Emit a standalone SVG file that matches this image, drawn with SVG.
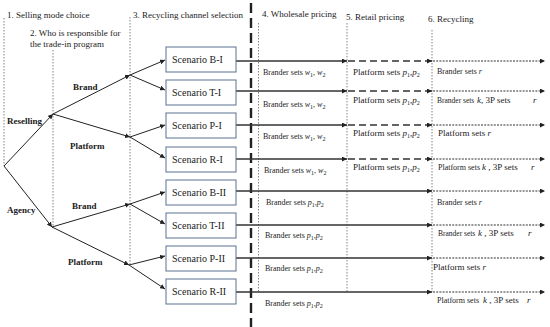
<svg xmlns="http://www.w3.org/2000/svg" width="550" height="327" viewBox="0 0 550 327">
<style>
text{font-family:"Liberation Serif","Times New Roman",serif;fill:#1a1a1a}
.h{font-size:9px}
.b{font-size:9px;font-weight:bold}
.s{font-size:10px}
.br{font-size:8px}
.pl{font-size:9px}
.sm{font-size:7.5px}
.sp{font-size:8px}
.i{font-style:italic}
.sub{font-size:6px}
.guide{stroke:#777;stroke-width:0.9;stroke-dasharray:1.5 1.5;fill:none}
.box{fill:#fff;stroke:#5a7090;stroke-width:1}
.e{stroke:#222;stroke-width:1;fill:none}
.solid{stroke:#333;stroke-width:1.3;fill:none}
.dash{stroke:#333;stroke-width:1.3;stroke-dasharray:7 4;fill:none}
.dot{stroke:#333;stroke-width:1.2;stroke-dasharray:2 1.2;fill:none}
</style>
<defs>
<marker id="a" viewBox="0 0 10 10" refX="10" refY="5" markerWidth="5" markerHeight="5" markerUnits="userSpaceOnUse" orient="auto">
<path d="M0,0L10,5L0,10z" fill="#222"/>
</marker>
</defs>

<g id="guides">
<line class="guide" x1="4" y1="18" x2="4" y2="166"/>
<line class="guide" x1="53" y1="50" x2="53" y2="227"/>
<line class="guide" x1="130" y1="17" x2="130" y2="265"/>
<line class="guide" x1="258.5" y1="23" x2="258.5" y2="292"/>
<line class="guide" x1="347" y1="23" x2="347" y2="292"/>
<line class="guide" x1="432" y1="30" x2="432" y2="292"/>
<line x1="251" y1="3" x2="251" y2="327" stroke="#222" stroke-width="2.4" stroke-dasharray="10 5"/>
</g>

<g id="headings">
<text class="h" x="7" y="18">1. Selling mode choice</text>
<text class="h" x="30" y="36">2. Who is responsible for</text>
<text class="h" x="30" y="47">the trade-in program</text>
<text class="h" x="133" y="18">3. Recycling channel selection</text>
<text class="h" x="262" y="17">4. Wholesale pricing</text>
<text class="h" x="346" y="20">5. Retail pricing</text>
<text class="h" x="428" y="22">6. Recycling</text>
</g>

<g id="connectors">
<line class="e" x1="4" y1="166" x2="53" y2="114" marker-end="url(#a)"/>
<line class="e" x1="4" y1="166" x2="52" y2="227" marker-end="url(#a)"/>
<line class="e" x1="53" y1="114" x2="130" y2="75" marker-end="url(#a)"/>
<line class="e" x1="53" y1="114" x2="130" y2="137" marker-end="url(#a)"/>
<line class="e" x1="52" y1="227" x2="130" y2="204" marker-end="url(#a)"/>
<line class="e" x1="52" y1="227" x2="129" y2="265" marker-end="url(#a)"/>
<line class="e" x1="130" y1="75" x2="165" y2="60" marker-end="url(#a)"/>
<line class="e" x1="130" y1="75" x2="165" y2="90" marker-end="url(#a)"/>
<line class="e" x1="130" y1="137" x2="165" y2="125" marker-end="url(#a)"/>
<line class="e" x1="130" y1="137" x2="165" y2="158" marker-end="url(#a)"/>
<line class="e" x1="130" y1="204" x2="165" y2="192" marker-end="url(#a)"/>
<line class="e" x1="130" y1="204" x2="165" y2="224" marker-end="url(#a)"/>
<line class="e" x1="129" y1="265" x2="165" y2="256" marker-end="url(#a)"/>
<line class="e" x1="129" y1="265" x2="165" y2="289" marker-end="url(#a)"/>

<line class="solid" x1="236" y1="61" x2="347" y2="61" marker-end="url(#a)"/>
<line class="dash" x1="348" y1="61" x2="432" y2="61" marker-end="url(#a)"/>
<line class="dot" x1="433" y1="61" x2="545" y2="61" marker-end="url(#a)"/>

<line class="solid" x1="236" y1="91" x2="347" y2="91" marker-end="url(#a)"/>
<line class="dash" x1="348" y1="91" x2="432" y2="91" marker-end="url(#a)"/>
<line class="dot" x1="433" y1="91" x2="545" y2="91" marker-end="url(#a)"/>

<line class="solid" x1="236" y1="125" x2="347" y2="125" marker-end="url(#a)"/>
<line class="dash" x1="348" y1="125" x2="432" y2="125" marker-end="url(#a)"/>
<line class="dot" x1="433" y1="125" x2="545" y2="125" marker-end="url(#a)"/>

<line class="solid" x1="236" y1="159" x2="347" y2="159" marker-end="url(#a)"/>
<line class="dash" x1="348" y1="159" x2="432" y2="159" marker-end="url(#a)"/>
<line class="dot" x1="433" y1="159" x2="545" y2="159" marker-end="url(#a)"/>

<line class="solid" x1="236" y1="191" x2="432" y2="191" marker-end="url(#a)"/>
<line class="dot" x1="433" y1="191" x2="545" y2="191" marker-end="url(#a)"/>

<line class="solid" x1="236" y1="225" x2="432" y2="225" marker-end="url(#a)"/>
<line class="dot" x1="433" y1="225" x2="545" y2="225" marker-end="url(#a)"/>

<line class="solid" x1="236" y1="258" x2="432" y2="258" marker-end="url(#a)"/>
<line class="dot" x1="433" y1="258" x2="545" y2="258" marker-end="url(#a)"/>

<line class="solid" x1="236" y1="292" x2="432" y2="292" marker-end="url(#a)"/>
<line class="dot" x1="433" y1="292" x2="545" y2="292" marker-end="url(#a)"/>
</g>

<g id="edge-labels">
<text class="b" x="7" y="124">Reselling</text>
<text class="b" x="7" y="213">Agency</text>
<text class="b" x="73" y="90">Brand</text>
<text class="b" x="70" y="149">Platform</text>
<text class="b" x="72" y="209">Brand</text>
<text class="b" x="68" y="265">Platform</text>
</g>

<g id="scenario-B-I"><rect class="box" x="166" y="47" width="70" height="25"/><text class="s" x="172" y="63">Scenario B-I</text></g>
<g id="scenario-T-I"><rect class="box" x="166" y="80" width="70" height="25"/><text class="s" x="172" y="96">Scenario T-I</text></g>
<g id="scenario-P-I"><rect class="box" x="166" y="113" width="70" height="25"/><text class="s" x="172" y="129">Scenario P-I</text></g>
<g id="scenario-R-I"><rect class="box" x="166" y="147" width="70" height="25"/><text class="s" x="172" y="163">Scenario R-I</text></g>
<g id="scenario-B-II"><rect class="box" x="166" y="180" width="70" height="25"/><text class="s" x="172" y="196">Scenario B-II</text></g>
<g id="scenario-T-II"><rect class="box" x="166" y="213" width="70" height="25"/><text class="s" x="172" y="229">Scenario T-II</text></g>
<g id="scenario-P-II"><rect class="box" x="166" y="246" width="70" height="25"/><text class="s" x="172" y="262">Scenario P-II</text></g>
<g id="scenario-R-II"><rect class="box" x="166" y="279" width="70" height="25"/><text class="s" x="172" y="295">Scenario R-II</text></g>

<g id="row-labels">
<text class="br" x="263" y="75">Brander sets <tspan class="i">w</tspan><tspan class="sub" dy="2">1</tspan><tspan dy="-2">, </tspan><tspan class="i">w</tspan><tspan class="sub" dy="2">2</tspan></text>
<text class="pl" x="353" y="75">Platform sets <tspan class="i">p</tspan><tspan class="sub" dy="2">1</tspan><tspan dy="-2">,</tspan><tspan class="i">p</tspan><tspan class="sub" dy="2">2</tspan></text>
<text class="br" x="437" y="74">Brander sets <tspan class="i">r</tspan></text>

<text class="br" x="263" y="107">Brander sets <tspan class="i">w</tspan><tspan class="sub" dy="2">1</tspan><tspan dy="-2">, </tspan><tspan class="i">w</tspan><tspan class="sub" dy="2">2</tspan></text>
<text class="pl" x="353" y="103">Platform sets <tspan class="i">p</tspan><tspan class="sub" dy="2">1</tspan><tspan dy="-2">,</tspan><tspan class="i">p</tspan><tspan class="sub" dy="2">2</tspan></text>
<text class="pl" x="437" y="103"><tspan class="sm">Brander sets</tspan><tspan class="i" x="477">k</tspan>, 3P sets<tspan class="i" x="533">r</tspan></text>

<text class="br" x="263" y="139">Brander sets <tspan class="i">w</tspan><tspan class="sub" dy="2">1</tspan><tspan dy="-2">, </tspan><tspan class="i">w</tspan><tspan class="sub" dy="2">2</tspan></text>
<text class="pl" x="353" y="136">Platform sets <tspan class="i">p</tspan><tspan class="sub" dy="2">1</tspan><tspan dy="-2">,</tspan><tspan class="i">p</tspan><tspan class="sub" dy="2">2</tspan></text>
<text class="pl" x="438" y="136">Platform sets <tspan class="i">r</tspan></text>

<text class="br" x="264" y="173">Brander sets <tspan class="i">w</tspan><tspan class="sub" dy="2">1</tspan><tspan dy="-2">, </tspan><tspan class="i">w</tspan><tspan class="sub" dy="2">2</tspan></text>
<text class="pl" x="353" y="170">Platform sets <tspan class="i">p</tspan><tspan class="sub" dy="2">1</tspan><tspan dy="-2">,</tspan><tspan class="i">p</tspan><tspan class="sub" dy="2">2</tspan></text>
<text class="pl" x="438" y="170"><tspan class="sp">Platform sets</tspan><tspan class="i" x="482">k</tspan> , 3P sets<tspan class="i" x="531">r</tspan></text>

<text class="br" x="266" y="205">Brander sets  <tspan class="i">p</tspan><tspan class="sub" dy="2">1</tspan><tspan dy="-2">,</tspan><tspan class="i">p</tspan><tspan class="sub" dy="2">2</tspan></text>
<text class="br" x="437" y="205">Brander sets <tspan class="i">r</tspan></text>

<text class="br" x="265" y="238">Brander sets  <tspan class="i">p</tspan><tspan class="sub" dy="2">1</tspan><tspan dy="-2">,</tspan><tspan class="i">p</tspan><tspan class="sub" dy="2">2</tspan></text>
<text class="pl" x="438" y="236"><tspan class="sm">Brander sets</tspan><tspan class="i" x="478">k</tspan>  , 3P sets<tspan class="i" x="528">r</tspan></text>

<text class="br" x="265" y="271">Brander sets  <tspan class="i">p</tspan><tspan class="sub" dy="2">1</tspan><tspan dy="-2">,</tspan><tspan class="i">p</tspan><tspan class="sub" dy="2">2</tspan></text>
<text class="pl" x="433" y="270">Platform sets <tspan class="i">r</tspan></text>

<text class="br" x="265" y="306">Brander sets  <tspan class="i">p</tspan><tspan class="sub" dy="2">1</tspan><tspan dy="-2">,</tspan><tspan class="i">p</tspan><tspan class="sub" dy="2">2</tspan></text>
<text class="pl" x="437" y="303"><tspan class="sp">Platform sets</tspan><tspan class="i" x="483">k</tspan> , 3P sets<tspan class="i" x="527">r</tspan></text>
</g>
</svg>
